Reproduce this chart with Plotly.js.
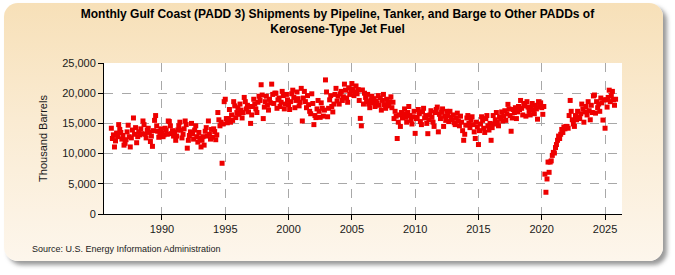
<!DOCTYPE html>
<html>
<head>
<meta charset="utf-8">
<script src="https://cdn.plot.ly/plotly-3.0.1.min.js"></script>
<style>
  html, body { margin: 0; padding: 0; background: #ffffff; width: 675px; height: 275px; overflow: hidden; }
  #card {
    position: absolute; left: 4px; top: 3px; width: 659px; height: 258px;
    border-radius: 14px;
    background: linear-gradient(to bottom, #f7e0b8 0%, #faebd2 45%, #fdf6ec 100%);
    box-shadow: 4px 4px 4px rgba(120,120,120,0.75);
  }
  #chart { position: absolute; left: 0; top: 0; width: 675px; height: 275px; }
</style>
</head>
<body>
<div id="card"></div>
<div id="chart"></div>
<script>
// Monthly values (thousand barrels), Jan 1986 onward
const startYear = 1986;
const v1986 = [14200, 12500, 13100, 11100, 12100, 13400, 12800, 14800, 14000, 13500, 12400, 13000];
const v1987 = [11400, 11700, 12300, 13600, 14700, 12800, 11100, 12600, 13900, 15900, 13200, 14300];
const v1988 = [11800, 12800, 13600, 13100, 14100, 13300, 15400, 14800, 13200, 12600, 13900, 14200];
const v1989 = [13500, 12000, 12900, 11200, 13800, 15500, 16300, 14600, 13700, 12700, 13300, 14100];
const v1990 = [13400, 12800, 13100, 14200, 13900, 13200, 15400, 15300, 14600, 13300, 13800, 12900];
const v1991 = [13600, 12200, 12900, 13900, 14600, 15200, 13900, 12600, 13200, 14100, 15400, 14800];
const v1992 = [10900, 12200, 13000, 13600, 15000, 13300, 12400, 13900, 14600, 12800, 11900, 13500];
const v1993 = [12600, 11100, 12200, 12800, 11400, 13700, 14300, 12900, 15400, 13200, 12400, 14000];
const v1994 = [12700, 14100, 13650, 12300, 13100, 16800, 15600, 14600, 15200, 8400, 14900, 18600];
const v1995 = [19000, 15800, 15100, 15800, 17300, 15200, 16400, 15500, 18600, 17900, 15960, 16800];
const v1996 = [17600, 16500, 18200, 17200, 15900, 16800, 19300, 18600, 17400, 18000, 16900, 17800];
const v1997 = [15000, 16400, 17800, 19000, 18200, 17400, 16800, 18500, 19500, 18800, 21400, 19700];
const v1998 = [15800, 17700, 18600, 19500, 18000, 17200, 19000, 18400, 21500, 19800, 18300, 20000];
const v1999 = [20000, 17500, 18900, 19200, 17800, 18500, 20300, 19600, 17400, 18200, 19800, 18900];
const v2000 = [18100, 17300, 18600, 19900, 20500, 19300, 17600, 18800, 20200, 19100, 17900, 18500];
const v2001 = [20800, 15400, 19200, 20300, 18600, 17600, 19600, 18100, 17000, 16600, 19900, 18300];
const v2002 = [14800, 16300, 15960, 17400, 18800, 17000, 16000, 18400, 17500, 16200, 17200, 22200];
const v2003 = [20200, 16100, 17500, 18900, 19600, 17800, 16900, 18200, 19800, 20800, 18700, 19500];
const v2004 = [18200, 19900, 20300, 18800, 19400, 21500, 20500, 19200, 18500, 20900, 19800, 20400];
const v2005 = [21600, 20700, 19600, 20200, 21200, 19900, 20600, 18800, 15830, 14600, 20530, 18200];
const v2006 = [20000, 19300, 18600, 19800, 18200, 17600, 18900, 19500, 18400, 19100, 17800, 18700];
const v2007 = [18300, 19600, 18000, 19200, 17200, 18800, 19800, 18100, 17500, 19000, 18400, 17900];
const v2008 = [18600, 19400, 17600, 18500, 15800, 17000, 16200, 12500, 15200, 16400, 14500, 16800];
const v2009 = [15900, 16600, 17400, 16000, 15200, 16800, 17800, 16300, 15500, 14900, 16100, 17000];
const v2010 = [13350, 15800, 16000, 17300, 16600, 15300, 14800, 16900, 17500, 15900, 16300, 15000];
const v2011 = [13300, 15600, 16400, 17100, 16000, 15200, 14500, 16800, 17300, 17700, 13600, 16500];
const v2012 = [15800, 16900, 17400, 14500, 16200, 15500, 17000, 16300, 15300, 17000, 16000, 15600];
const v2013 = [16400, 15100, 14800, 15900, 16700, 15400, 14600, 16200, 15200, 13800, 12200, 13200];
const v2014 = [14700, 15900, 16300, 15000, 14300, 15600, 16100, 14800, 13600, 12500, 15200, 14400];
const v2015 = [11500, 13800, 14900, 16100, 15500, 14200, 13500, 15800, 16300, 14600, 13900, 15000];
const v2016 = [12200, 14300, 16300, 14900, 15600, 16800, 15200, 14600, 16100, 15800, 16900, 15400];
const v2017 = [16200, 17100, 15500, 16600, 18150, 17400, 16300, 13700, 15900, 17300, 16800, 17600];
const v2018 = [15800, 16900, 17800, 17300, 18800, 17500, 16400, 18300, 17900, 16200, 18600, 17700];
const v2019 = [17000, 16400, 17600, 18300, 17200, 16600, 18000, 17400, 15700, 18600, 17800, 18400];
const v2020 = [17600, 16500, 17800, 6600, 3600, 5800, 8600, 6900, 8600, 8800, 9700, 10200];
const v2021 = [10100, 11000, 11500, 12200, 12900, 12500, 13200, 14000, 13500, 14400, 14100, 14500];
const v2022 = [14500, 14200, 16300, 18800, 17000, 15600, 14900, 14500, 16300, 15600, 17000, 16000];
const v2023 = [15800, 16600, 18200, 17400, 15200, 16900, 17800, 16400, 18600, 17100, 15600, 18000];
const v2024 = [16800, 19550, 19700, 16700, 18600, 17600, 18200, 17000, 19200, 18400, 15550, 18900];
const v2025 = [14200, 18900, 17700, 19300, 20500, 18600, 19600, 20300, 18900, 18000, 19000];

const yearly = [v1986, v1987, v1988, v1989, v1990, v1991, v1992, v1993, v1994, v1995,
  v1996, v1997, v1998, v1999, v2000, v2001, v2002, v2003, v2004, v2005,
  v2006, v2007, v2008, v2009, v2010, v2011, v2012, v2013, v2014, v2015,
  v2016, v2017, v2018, v2019, v2020, v2021, v2022, v2023, v2024, v2025];

const xTickVals = ['1990-01-01','1995-01-01','2000-01-01','2005-01-01','2010-01-01','2015-01-01','2020-01-01','2025-01-01'];
const xTickText = ['1990','1995','2000','2005','2010','2015','2020','2025'];
const yTickVals = [0, 5000, 10000, 15000, 20000, 25000];

const xs = [], ys = [];
yearly.forEach((arr, i) => {
  arr.forEach((v, m) => {
    const mm = String(m + 1).padStart(2, '0');
    xs.push((startYear + i) + '-' + mm + '-01');
    ys.push(v);
  });
});

const trace = {
  type: 'scatter', mode: 'markers', x: xs, y: ys,
  marker: { symbol: 'square', size: 5, color: '#ee0000', line: { width: 0 } },
  hoverinfo: 'x+y'
};

const layout = {
  width: 675, height: 275,
  margin: { l: 104, r: 53, t: 63, b: 61 },
  paper_bgcolor: 'rgba(0,0,0,0)',
  plot_bgcolor: '#ffffff',
  showlegend: false,
  font: { family: 'Liberation Sans, Arial, sans-serif', size: 11, color: '#1a1a1a' },
  title: {
    text: '<b>Monthly Gulf Coast (PADD 3) Shipments by Pipeline, Tanker, and Barge to Other PADDs of<br>Kerosene-Type Jet Fuel</b>',
    font: { family: 'Liberation Sans, Arial, sans-serif', size: 12, color: '#000' },
    x: 0.5, xref: 'container', y: 0.935, yref: 'container', yanchor: 'middle'
  },
  xaxis: {
    type: 'date',
    range: ['1985-06-03', '2026-05-05'],
    tickvals: xTickVals, ticktext: xTickText,
    ticks: 'outside', ticklen: 5, tickcolor: '#000',
    showline: true, linecolor: '#000', linewidth: 1,
    showgrid: true, gridcolor: '#a8a8a8', griddash: 'dash', gridwidth: 1,
    zeroline: false,
    tickfont: { size: 11, color: '#1a1a1a' }
  },
  yaxis: {
    range: [0, 25000],
    tickvals: yTickVals, tickformat: ',d',
    ticks: 'outside', ticklen: 5, tickcolor: '#000',
    showline: true, linecolor: '#000', linewidth: 1,
    showgrid: true, gridcolor: '#a8a8a8', griddash: 'dash', gridwidth: 1,
    zeroline: false,
    tickfont: { size: 11, color: '#1a1a1a' },
    title: { text: 'Thousand Barrels', font: { size: 11, color: '#1a1a1a' }, standoff: 12 }
  },
  annotations: [{
    text: 'Source: U.S. Energy Information Administration',
    xref: 'paper', yref: 'paper', x: -0.143, y: -0.232,
    xanchor: 'left', yanchor: 'middle', showarrow: false,
    font: { size: 9, color: '#1a1a1a' }
  }]
};

Plotly.newPlot('chart', [trace], layout, { displayModeBar: false, staticPlot: true });
</script>
</body>
</html>
